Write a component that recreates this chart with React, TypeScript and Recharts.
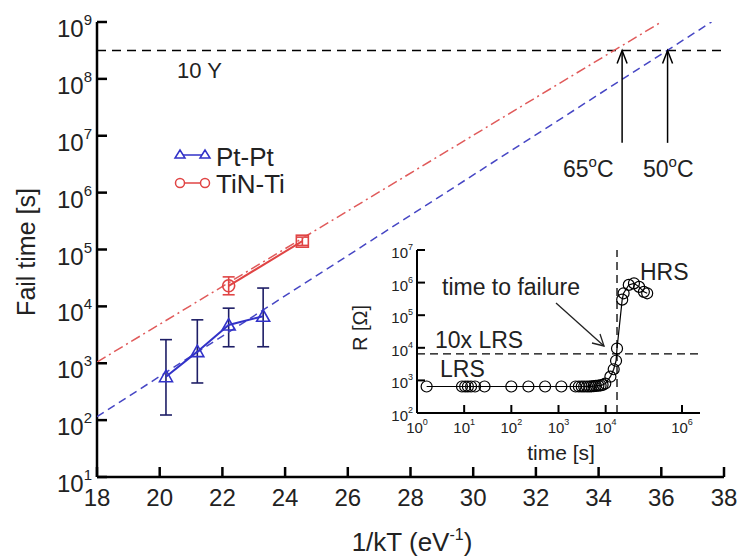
import React from 'react';
import { ComposedChart, Scatter, XAxis, YAxis, ReferenceLine, ErrorBar } from 'recharts';

// ---- main panel: fail time vs 1/kT ----
const kTTicks = [18, 20, 22, 24, 26, 28, 30, 32, 34, 36, 38];
const failTicks = [1e1, 1e2, 1e3, 1e4, 1e5, 1e6, 1e7, 1e8, 1e9];

const ptPtX = [20.2, 21.2, 22.2, 23.3];
const ptPtFail = [580, 1600, 4700, 6700];
const ptPtLow = [123, 450, 1950, 1950];
const ptPtHigh = [2600, 5800, 9300, 21000];

const tinTiX = [22.2, 24.55];
const tinTiFail = [23000, 140000];
const tinTiLow = [16000, 118000];
const tinTiHigh = [33000, 165000];
const tinTiMarks = ['circle', 'square'];

// extrapolated fits
const ptPtFitX = [18, 37.6];
const ptPtFitY = [115, 1e9];
const tinTiFitX = [18, 36.0];
const tinTiFitY = [1050, 1e9];

const tenYears = 3.15e8;
const arrowX = [34.75, 36.2];
const arrowBase = 7.5e6;

// ---- inset: R vs time ----
const timeTicks = [1, 10, 100, 1e3, 1e4, 1e5, 1e6];
const resTicks = [1e2, 1e3, 1e4, 1e5, 1e6, 1e7];
const sweepTime = [1.6, 9, 10.5, 12, 14, 17, 27, 100, 230, 520, 1150, 2300, 2700, 3100, 3500, 4000, 4500, 5000, 5600, 6200, 7000, 7800, 8600, 9800, 12600, 14800, 16600, 17400, 22400, 24000, 30900, 39800, 51300, 64600, 75900];
const sweepR = [650, 650, 650, 650, 650, 650, 650, 650, 650, 650, 650, 650, 650, 650, 650, 650, 650, 660, 670, 680, 690, 700, 730, 800, 1300, 2200, 4000, 9500, 3e5, 4.7e5, 8.5e5, 9.5e5, 7.4e5, 5.2e5, 4.7e5];
const lrsLimit = 6500;
const failureTime = 17400;

const F = "'Liberation Sans', Arial, Helvetica, sans-serif";
const BLUE = '#3232c8';
const NAVY = '#1e1e66';
const RED = '#e04444';
const TXT = '#222';

const ptPtData = ptPtX.map((x, i) => ({ x, y: ptPtFail[i], err: [ptPtFail[i] - ptPtLow[i], ptPtHigh[i] - ptPtFail[i]] }));
const tinTiData = tinTiX.map((x, i) => ({ x, y: tinTiFail[i], mark: tinTiMarks[i], err: [tinTiFail[i] - tinTiLow[i], tinTiHigh[i] - tinTiFail[i]] }));
const ptPtFit = ptPtFitX.map((x, i) => ({ x, y: ptPtFitY[i] }));
const tinTiFit = tinTiFitX.map((x, i) => ({ x, y: tinTiFitY[i] }));
const sweepData = sweepTime.map((x, i) => ({ x, y: sweepR[i] }));

const exp10 = (v: number) => Math.round(Math.log10(v));
const noDot = () => <g />;

const triangle = (p: any) => (
  <path d={`M${p.cx},${p.cy - 6.5} L${p.cx + 6.5},${p.cy + 5} L${p.cx - 6.5},${p.cy + 5} Z`} fill="none" stroke={BLUE} strokeWidth={1.6} />
);
const redMark = (p: any) =>
  p.payload.mark === 'square'
    ? <rect x={p.cx - 6} y={p.cy - 6} width={12} height={12} fill="none" stroke={RED} strokeWidth={1.6} />
    : <circle cx={p.cx} cy={p.cy} r={6} fill="none" stroke={RED} strokeWidth={1.6} />;
const arrowHead = (p: any) =>
  p.payload.tip ? <path d={`M${p.cx - 5},${p.cy + 13} L${p.cx},${p.cy} L${p.cx + 5},${p.cy + 13}`} fill="none" stroke="#000" strokeWidth={1.5} /> : <g />;
const hollowCircle = (p: any) => <circle cx={p.cx} cy={p.cy} r={5.5} fill="none" stroke="#000" strokeWidth={1.2} />;

// main axes ticks (inward, gnuplot style)
const bottomTick = (p: any) => (
  <g>
    <line x1={p.x} x2={p.x} y1={p.y} y2={p.y - 10} stroke="#000" strokeWidth={2.5} />
    <text x={p.x} y={p.y + 29} textAnchor="middle" fontSize={24} fontFamily={F} fill={TXT}>{p.payload.value}</text>
  </g>
);
const topTick = (p: any) => <line x1={p.x} x2={p.x} y1={p.y} y2={p.y + 10} stroke="#000" strokeWidth={2.5} />;
const leftTick = (p: any) => (
  <g>
    <line x1={p.x} x2={p.x + 10} y1={p.y} y2={p.y} stroke="#000" strokeWidth={2.5} />
    <text x={p.x - 5} y={p.y + 15} textAnchor="end" fontSize={24} fontFamily={F} fill={TXT}>
      10<tspan fontSize={15} dy={-12}>{exp10(p.payload.value)}</tspan>
    </text>
  </g>
);
const rightTick = (p: any) => <line x1={p.x} x2={p.x - 10} y1={p.y} y2={p.y} stroke="#000" strokeWidth={2.5} />;

// inset ticks
const insBottomTick = (p: any) => (
  <g>
    <line x1={p.x} x2={p.x} y1={p.y} y2={p.y - 8} stroke="#000" strokeWidth={2} />
    <text x={p.x} y={p.y + 20} textAnchor="middle" fontSize={15} fontFamily={F} fill={TXT}>
      10<tspan fontSize={9} dy={-8}>{exp10(p.payload.value)}</tspan>
    </text>
  </g>
);
const insTopTick = (p: any) => <line x1={p.x} x2={p.x} y1={p.y} y2={p.y + 8} stroke="#000" strokeWidth={2} />;
const insLeftTick = (p: any) => (
  <g>
    <line x1={p.x} x2={p.x + 8} y1={p.y} y2={p.y} stroke="#000" strokeWidth={2} />
    <text x={p.x - 4} y={p.y + 8} textAnchor="end" fontSize={15} fontFamily={F} fill={TXT}>
      10<tspan fontSize={9} dy={-8}>{exp10(p.payload.value)}</tspan>
    </text>
  </g>
);
const insRightTick = (p: any) => <line x1={p.x} x2={p.x - 8} y1={p.y} y2={p.y} stroke="#000" strokeWidth={2} />;

function MainPanel() {
  return (
    <ComposedChart width={739} height={559} margin={{ top: 22, right: 15, bottom: 42, left: 37 }}>
      <XAxis type="number" dataKey="x" domain={[18, 38]} ticks={kTTicks} allowDataOverflow height={40}
        tickSize={0} tickMargin={0} tickLine={false} tick={bottomTick} axisLine={{ stroke: '#000', strokeWidth: 2.5 }} />
      <XAxis xAxisId="top" orientation="top" type="number" dataKey="x" domain={[18, 38]} ticks={kTTicks} allowDataOverflow height={0}
        tickSize={0} tickMargin={0} tickLine={false} tick={topTick} axisLine={{ stroke: '#000', strokeWidth: 2.5 }} />
      <YAxis type="number" dataKey="y" scale="log" domain={[1e1, 1e9]} ticks={failTicks} allowDataOverflow width={60}
        tickSize={0} tickMargin={0} tickLine={false} tick={leftTick} axisLine={{ stroke: '#000', strokeWidth: 2.5 }} />
      <YAxis yAxisId="right" orientation="right" type="number" dataKey="y" scale="log" domain={[1e1, 1e9]} ticks={failTicks} allowDataOverflow width={0}
        tickSize={0} tickMargin={0} tickLine={false} tick={rightTick} axisLine={{ stroke: '#000', strokeWidth: 2.5 }} />

      <ReferenceLine y={tenYears} stroke="#000" strokeWidth={1.5} strokeDasharray="9 6" />

      <Scatter data={ptPtFit} shape={noDot} isAnimationActive={false}
        line={{ stroke: '#4646c4', strokeWidth: 1.5, strokeDasharray: '8 5' }} />
      <Scatter data={tinTiFit} shape={noDot} isAnimationActive={false}
        line={{ stroke: '#e05a5a', strokeWidth: 1.5, strokeDasharray: '10 4 2 4' }} />

      <Scatter data={ptPtData} shape={triangle} isAnimationActive={false}
        line={{ stroke: BLUE, strokeWidth: 2 }}>
        <ErrorBar dataKey="err" direction="y" width={6} stroke={NAVY} strokeWidth={1.6} />
      </Scatter>
      <Scatter data={tinTiData} shape={redMark} isAnimationActive={false}
        line={{ stroke: RED, strokeWidth: 2 }}>
        <ErrorBar dataKey="err" direction="y" width={6} stroke={RED} strokeWidth={1.6} />
      </Scatter>

      {arrowX.map((x) => (
        <Scatter key={x} data={[{ x, y: arrowBase }, { x, y: tenYears, tip: true }]} shape={arrowHead}
          isAnimationActive={false} line={{ stroke: '#000', strokeWidth: 1.5 }} />
      ))}
    </ComposedChart>
  );
}

function InsetPanel() {
  return (
    <ComposedChart width={350} height={230} margin={{ top: 10, right: 10, bottom: 12, left: 12 }}>
      <XAxis type="number" dataKey="x" scale="log" domain={[1, 1e6]} ticks={timeTicks} allowDataOverflow height={45}
        tickSize={0} tickMargin={0} tickLine={false} tick={insBottomTick} axisLine={{ stroke: '#000', strokeWidth: 2 }} />
      <XAxis xAxisId="top" orientation="top" type="number" dataKey="x" scale="log" domain={[1, 1e6]} ticks={timeTicks} allowDataOverflow height={0}
        tickSize={0} tickMargin={0} tickLine={false} tick={insTopTick} axisLine={{ stroke: '#000', strokeWidth: 2 }} />
      <YAxis type="number" dataKey="y" scale="log" domain={[1e2, 1e7]} ticks={resTicks} allowDataOverflow width={45}
        tickSize={0} tickMargin={0} tickLine={false} tick={insLeftTick} axisLine={{ stroke: '#000', strokeWidth: 2 }} />
      <YAxis yAxisId="right" orientation="right" type="number" dataKey="y" scale="log" domain={[1e2, 1e7]} ticks={resTicks} allowDataOverflow width={0}
        tickSize={0} tickMargin={0} tickLine={false} tick={insRightTick} axisLine={{ stroke: '#000', strokeWidth: 2 }} />

      <ReferenceLine y={lrsLimit} stroke="#000" strokeWidth={1.3} strokeDasharray="8 5" />
      <ReferenceLine x={failureTime} stroke="#000" strokeWidth={1.3} strokeDasharray="8 5" />

      <Scatter data={sweepData} shape={hollowCircle} isAnimationActive={false}
        line={{ stroke: '#000', strokeWidth: 1.2 }} />
    </ComposedChart>
  );
}

export default function App() {
  return (
    <div style={{ position: 'absolute', left: 0, top: 0, width: 739, height: 559, background: '#fff' }}>
      <style>{'body{margin:0}'}</style>
      <div style={{ position: 'absolute', left: 0, top: 0 }}>
        <MainPanel />
      </div>
      <div style={{ position: 'absolute', left: 360, top: 240 }}>
        <InsetPanel />
      </div>
      <svg width={739} height={559} style={{ position: 'absolute', left: 0, top: 0, pointerEvents: 'none' }} fontFamily={F}>
        {/* axis titles */}
        <text transform="translate(35,252) rotate(-90)" textAnchor="middle" fontSize={25} fill={TXT}>Fail time [s]</text>
        <text x={412} y={551} textAnchor="middle" fontSize={26} fill={TXT}>
          1/kT (eV<tspan fontSize={16} dy={-11}>-1</tspan><tspan dy={11}>)</tspan>
        </text>

        {/* legend */}
        <line x1={180} x2={205} y1={155} y2={155} stroke={BLUE} strokeWidth={1.5} />
        <path d="M180,150 L185,158 L175,158 Z M205,150 L210,158 L200,158 Z" fill="#fff" stroke={BLUE} strokeWidth={1.5} />
        <text x={216} y={166} fontSize={26} fill={TXT}>Pt-Pt</text>
        <line x1={180} x2={205} y1={183} y2={183} stroke={RED} strokeWidth={1.5} />
        <circle cx={180} cy={183} r={4.5} fill="#fff" stroke={RED} strokeWidth={1.5} />
        <circle cx={205} cy={183} r={4.5} fill="#fff" stroke={RED} strokeWidth={1.5} />
        <text x={216} y={193} fontSize={26} fill={TXT}>TiN-Ti</text>

        {/* annotations */}
        <text x={177} y={78} fontSize={22} fill={TXT}>10 Y</text>
        <text x={563} y={177} fontSize={23} fill={TXT}>65<tspan fontSize={15} dy={-10}>o</tspan><tspan dy={10}>C</tspan></text>
        <text x={643} y={177} fontSize={23} fill={TXT}>50<tspan fontSize={15} dy={-10}>o</tspan><tspan dy={10}>C</tspan></text>

        {/* inset annotations */}
        <text x={640} y={280} fontSize={23} fill={TXT}>HRS</text>
        <text x={442} y={295} fontSize={23} fill={TXT}>time to failure</text>
        <line x1={556} y1={303} x2={604} y2={346} stroke="#222" strokeWidth={1.3} />
        <path d="M592,343 L604,346 L600,334" fill="none" stroke="#222" strokeWidth={1.3} />
        <text x={435} y={348} fontSize={23} fill={TXT}>10x LRS</text>
        <text x={440} y={377} fontSize={23} fill={TXT}>LRS</text>
        <text x={561} y={460} textAnchor="middle" fontSize={21} fill={TXT}>time [s]</text>
        <text transform="translate(367,328) rotate(-90)" textAnchor="middle" fontSize={20} fill={TXT}>R [Ω]</text>
      </svg>
    </div>
  );
}
